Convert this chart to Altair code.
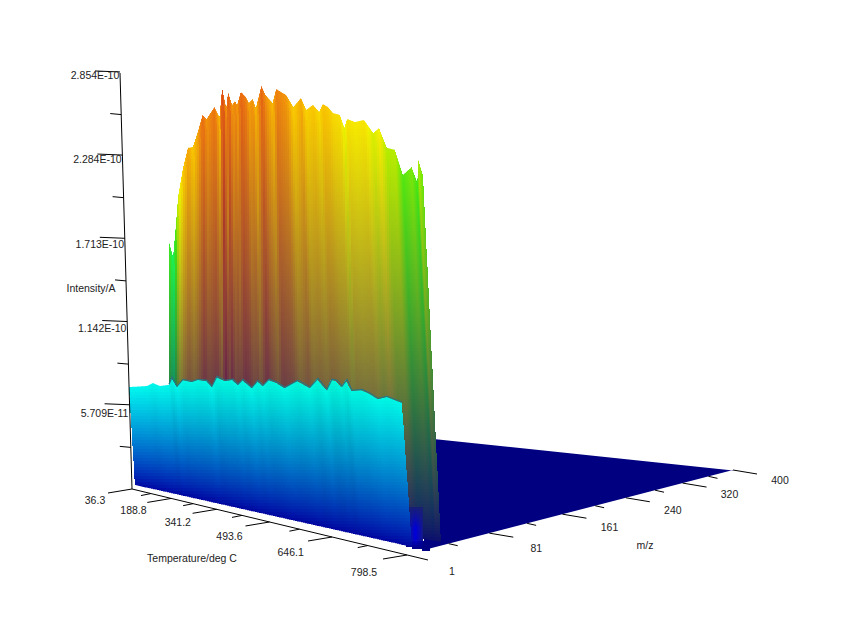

import altair as alt
import numpy as np
import pandas as pd

alt.data_transformers.disable_max_rows()

# Values (intensity in units of 1e-10 A)
back_temp = [36.3,54.2,67.4,76.1,97.6,118.7,139.5,159.8,179.7,195.4,226.2,244.9,256.0,270.6,277.8,292.1,302.7,309.7,323.6,340.7,350.8,364.1,373.9,393.3,406.1,428.0,440.3,455.4,470.3,490.7,513.6,527.5,546.8,562.9,573.5,586.6,599.5,617.2,627.1,634.5,653.9,675.3,696.0,709.6,725.1,742.5,757.4,776.2,786.4,790.5,798.5]
back_int = [1.736,1.628,1.854,2.027,2.212,2.335,2.33,2.417,2.515,2.479,2.536,2.46,2.636,2.5,2.595,2.504,2.522,2.492,2.563,2.52,2.476,2.491,2.43,2.548,2.485,2.422,2.495,2.466,2.438,2.354,2.389,2.312,2.326,2.276,2.312,2.286,2.244,2.221,2.145,2.188,2.158,2.154,2.072,2.089,1.977,1.956,1.821,1.85,1.766,1.877,1.798]
front_temp = [36.3,109.3,132.6,159.2,192.4,203.2,221.1,242.1,272.8,292.8,322.1,338.0,353.7,378.2,402.2,416.8,431.3,456.7,473.3,486.9,503.0,523.9,544.4,576.8,605.6,624.3,644.8,656.0,667.1,678.0,688.8,699.4,720.2,736.5,752.5,770.1,798.5]
front_int = [0.672,0.689,0.712,0.696,0.707,0.754,0.698,0.745,0.737,0.752,0.749,0.715,0.778,0.757,0.766,0.738,0.769,0.726,0.769,0.742,0.779,0.765,0.739,0.783,0.749,0.8,0.744,0.799,0.795,0.765,0.803,0.748,0.756,0.739,0.716,0.73,0.706]
temp_ticks = [36.3,188.8,341.2,493.6,646.1,798.5]
temp_labels = ["36.3","188.8","341.2","493.6","646.1","798.5"]
mz_ticks = [1,81,161,240,320,400]
mz_labels = ["1","81","161","240","320","400"]
int_ticks = [0.5709,1.142,1.713,2.284,2.854]
int_labels = ["5.709E-11","1.142E-10","1.713E-10","2.284E-10","2.854E-10"]

FONT = "Liberation Sans"
Z_MAX = 2.854
PX = 0.00686  # intensity per screen pixel at the near-left corner

# Colour ramp of the surface: stop (fraction of max), rgb
RAMP_S = [0, .12, .235, .45, .6, .68, .75, .82, .89, .95, 1]
RAMP_C = np.array([(0,0,128),(0,0,255),(0,245,240),(0,250,120),(70,230,20),(170,235,0),(245,240,0),(250,195,0),(238,125,15),(225,80,20),(200,50,20)], float)

def ramp(v):
    return np.array([np.interp(v, RAMP_S, RAMP_C[:, k]) for k in range(3)])

def hexc(c):
    c = np.clip(np.round(c), 0, 255).astype(int)
    return "#%02x%02x%02x" % tuple(c)

# Perspective along the axes
def f_temp(t, w=1.5):
    s = (np.asarray(t, float) - 36.3) / 762.2
    return s / (s + w * (1 - s))

def f_mz(m, w=0.725):
    s = (np.asarray(m, float) - 1) / 399
    return s / (s + w * (1 - s))

cells = []

# Floor
floor_m = np.array([18, 400])
fx_ = 405 + f_mz(floor_m) * 328
floor = pd.DataFrame({"x": fx_, "y": 555 - f_mz(floor_m) * 85,
                      "y2": 438 + (fx_ - fx_[0]) * 0.105})

# Back wall
bf = f_temp(back_temp)
bi = np.array(back_int)
# stripes: deviation from the local mean is emphasised in the colour
bi_col = bi + 1.0 * (bi - np.convolve(np.pad(bi, 3, mode="edge"), np.ones(7) / 7, mode="valid"))
def b_base(f): return 495 + 47 * f
def b_top(f):
    return b_base(f) - np.interp(f, bf, bi) / PX * (1 + .4 * f)

front_f = f_temp(front_temp)
fi = np.array(front_int)
def f_base(f): return 485 + 62 * f
def f_top(f):
    return f_base(f) - np.interp(f, front_f, fi) / PX * (1 + .4 * f)

NAVY = np.array((8, 8, 112.0))
for x in range(169, 443):
    odd = (x - 169) % 2 == 1
    for y in np.arange(84, 548, 3):
        xr = 423 + .049 * (y - 175)
        f = (x + .5 - 169) / (xr - 169)
        if f > 1 or f < 0:
            continue
        top = float(b_top(f)); base = float(b_base(f))
        if y + 3 <= top or y >= base:
            continue
        if x < 398 and y > 410:
            continue
        # one-pixel columns near the jagged top and right edge, two-pixel ones in the body
        ref_top = top
        if odd:
            ref_top = max(top, float(b_top(max((x - .5 - 169) / (xr - 169), 0))))
        fine = y < ref_top + 9 or f > (.89 if odd else .9)
        if odd and not fine:
            continue
        y1 = max(y, top)
        v = np.clip((base - y1) / (base - top), 0, 1) ** 0.7
        col = NAVY + (ramp(np.interp(f, bf, bi_col) / Z_MAX) - NAVY) * v
        cells.append((x, x + (1 if fine else 2), y1, min(y + 3, base), hexc(col)))

# Foot of the near corner: navy fill and bright patch
DARK = np.array((25, 32, 112.0))
BRIGHT = np.array((0, 0, 215.0))
for x in range(406, 430):
    for y in np.arange(505, 552, 2):
        if y > 547 + (x - 412) * 0.22:
            continue
        k = np.clip((y - 505) / 22, 0, 1) * np.clip(1 - abs(x - 415) / 8, 0, 1) ** 0.7
        k *= np.clip((548 - y) / 10, 0, 1)
        if y < 541 and k <= 0.02:
            continue
        c = DARK + (BRIGHT - DARK) * k
        if y >= 541:
            c = np.array((0, 0, 130.0)) + (BRIGHT - np.array((0, 0, 130.0))) * k
        cells.append((x, x + 1, y, y + 2, hexc(c)))

# Front wall
BLUE = np.array((0, 0, 150.0))
for x in range(129, 416):
    odd = (x - 129) % 2 == 1
    for y in np.arange(374, 552, 3):
        xl = 129 + .06 * (y - 385)
        xr = 402 + .07 * (y - 403)
        f = (x + .5 - xl) / (xr - xl)
        if f > 1 or f < 0:
            continue
        top = float(f_top(f)); base = float(f_base(f))
        if y + 3 <= top or y >= base:
            continue
        ref_top = top
        if odd:
            ref_top = max(top, float(f_top(max((x - .5 - xl) / (xr - xl), 0))))
        fine = y < ref_top + 6 or f > (.96 if odd else .97) or f < (.05 if odd else .04)
        if odd and not fine:
            continue
        y1 = max(y, top)
        v = float(np.clip((base - y1) / (base - top), 0, 1))
        tc = ramp(np.interp(f, front_f, fi) / Z_MAX)
        col = np.array((BLUE[0] + (tc[0] - BLUE[0]) * v ** .85,
                        BLUE[1] + (tc[1] - BLUE[1]) * v ** .85,
                        BLUE[2] + (tc[2] - BLUE[2]) * v ** .5))
        cells.append((x, x + (1 if fine else 2), y1, min(y + 3, base), hexc(col)))

df = pd.DataFrame(cells, columns=["x", "x2", "y", "y2", "c"])

# Seam where the front wall meets the wall behind it
seam_f = front_f[front_f > 0.13]
seam_i = fi[front_f > 0.13]
seam = pd.DataFrame({"x": 129 + seam_f * 273,
                     "y": f_base(seam_f) - seam_i / PX * (1 + .4 * seam_f) - 0.7,
                     "o": np.arange(len(seam_f))})

# Axes
rules = []
def seg(x, y, x2, y2):
    rules.append(dict(x=x, y=y, x2=x2, y2=y2))
texts = []

def z_pos(z):
    return 132 - z * 4.2, 489 - z / PX
zx, zy = z_pos(Z_MAX)
seg(132, 489, zx, zy)
for z, lab in zip(int_ticks, int_labels):
    px, py = z_pos(z)
    seg(px, py - 1, px - 25, py - 2)
    texts.append((px - 25, py + 3 + (1 - z / Z_MAX) * 6, lab))
    px, py = z_pos(z - int_ticks[0] / 2)
    seg(px, py, px - 11, py - 1)

def t_pos(t):
    f = f_temp(t)
    return 132 + f * 275, 489 + f * 66
seg(132, 489, 428, 560)
for i, (t, lab) in enumerate(zip(temp_ticks, temp_labels)):
    px, py = t_pos(t)
    seg(px, py, px - 24, py + 4)
    f = float(f_temp(t))
    texts.append((px - 37 - 6 * f, py + 12 + 6 * f, lab))
    if i:
        px, py = t_pos((t + temp_ticks[i - 1]) / 2)
        seg(px, py, px - 10, py + 2)

def m_pos(m):
    f = f_mz(m)
    return 405 + f * 328, 555 - f * 85
for i, (m, lab) in enumerate(zip(mz_ticks, mz_labels)):
    px, py = m_pos(m)
    if i:
        seg(px, py, px + 24, py + 4)
    f = float(f_mz(m))
    texts.append((px + 47, py + 17 - 6 * f, lab))
    if i:
        px, py = m_pos((m + mz_ticks[i - 1]) / 2)
        seg(px, py, px + 9, py + 2)

texts += [(91, 289, "Intensity/A"), (192, 559, "Temperature/deg C"), (645, 546, "m/z")]
rules = pd.DataFrame(rules)
texts = pd.DataFrame(texts, columns=["x", "y", "t"])

X = alt.X("x:Q", scale=alt.Scale(domain=[8, 834], nice=False, zero=False), axis=None)
Y = alt.Y("y:Q", scale=alt.Scale(domain=[616, 8], nice=False, zero=False), axis=None)

floor_layer = alt.Chart(floor).mark_area(color="#000080").encode(X, Y, y2="y2:Q")
surface = alt.Chart(df).mark_rect(strokeWidth=0).encode(
    X, alt.X2("x2:Q"), Y, alt.Y2("y2:Q"), color=alt.Color("c:N", scale=None, legend=None))
seam_layer = alt.Chart(seam).mark_line(color="#2a7480", strokeWidth=1.2).encode(X, Y, order="o:Q")
rule_layer = alt.Chart(rules).mark_rule(color="#000000", strokeWidth=1).encode(X, Y, x2="x2:Q", y2="y2:Q")
text_layer = alt.Chart(texts).mark_text(font=FONT, fontSize=10.5, color="#222222", align="center", baseline="middle").encode(X, Y, text="t:N")

chart = alt.layer(floor_layer, surface, seam_layer, rule_layer, text_layer).properties(
    width=826, height=608, padding=0, autosize=alt.AutoSizeParams(type="none"),
    background="#ffffff").configure_view(stroke=None)

chart.save("out.html", embed_options={"renderer": "svg", "actions": False})
